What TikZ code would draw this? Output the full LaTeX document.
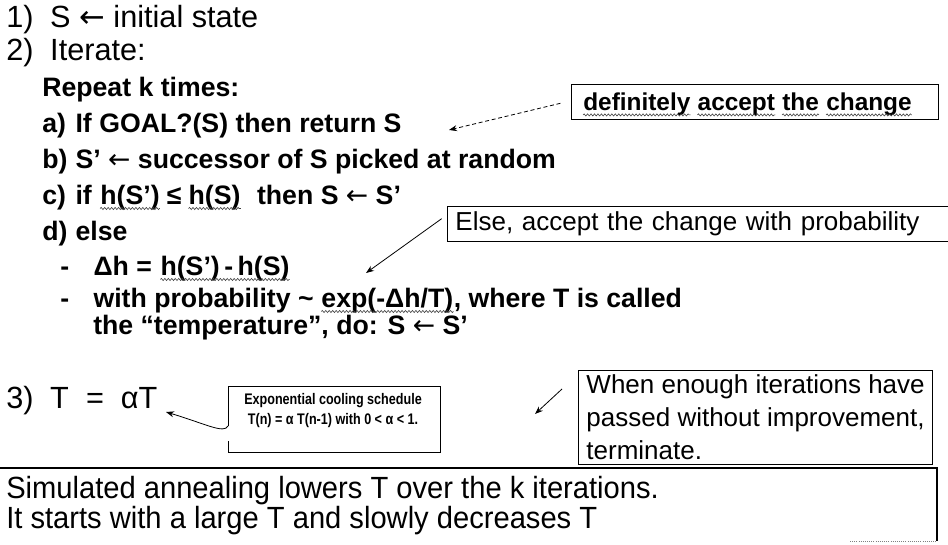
\documentclass[tikz,border=0pt]{standalone}
\usepackage{fontspec}
\setmainfont{Liberation Sans}
\newfontfamily\narrowfont[FakeStretch=0.82]{Liberation Sans}
\newfontfamily\botfont[FakeStretch=0.95]{Liberation Sans}
\newfontfamily\arrowfont{DejaVu Sans}
\usetikzlibrary{arrows.meta,decorations.pathmorphing}
\newcommand\larr{{\arrowfont\mdseries ←}}
\newcommand\squnder[1]{\draw[squig] ([yshift=-3.2pt]#1.base west) -- ([yshift=-3.2pt]#1.base east);}
\begin{document}
\begin{tikzpicture}[x=0.75pt,y=-0.75pt,
  mainline/.style={anchor=west, inner sep=0pt, text height=1.5ex, text depth=0.3ex, font=\fontsize{23}{27}\selectfont},
  subline/.style={anchor=west, inner sep=0pt, text height=1.5ex, text depth=0.3ex, font=\bfseries\fontsize{20}{24}\selectfont},
  seg/.style={anchor=base west, inner sep=0pt, font=\bfseries\fontsize{20}{24}\selectfont},
  defword/.style={anchor=base west, inner sep=0pt, font=\bfseries\fontsize{18.3}{22}\selectfont},
  callbox/.style={draw, line width=0.7pt, anchor=west, inner xsep=6pt, inner ysep=4pt},
  arr/.style={line width=0.6pt, -{Stealth[length=6pt,width=4.5pt]}},
  squig/.style={draw=darkgray, line width=0.45pt, decorate, decoration={snake, amplitude=0.8pt, segment length=2.6pt}},
]
\useasboundingbox (0,0) rectangle (948,545);
% main algorithm text
\node[mainline] (l1) at (6,23) {\makebox[33pt][l]{1)}S \larr{} initial state};
\node[mainline] (l2) at (6,56) {\makebox[33pt][l]{2)}Iterate:};
\node[subline] (rep) at (42,92) {Repeat k times:};
\node[subline] (la) at (42,128) {\makebox[25pt][l]{a)}If GOAL?(S) then return S};
\node[subline] (lb) at (42,164) {\makebox[25pt][l]{b)}S' \larr{} successor of S picked at random};
% line c
\node[subline] (lc) at (42,200) {\makebox[25pt][l]{c)}if};
\node[seg] (lch1) at ([xshift=6pt]lc.base east) {h(S')};
\node[seg] (lcle) at ([xshift=5pt]lch1.base east) {≤};
\node[seg] (lch2) at ([xshift=5pt]lcle.base east) {h(S)};
\node[seg] (lcthen) at ([xshift=12pt]lch2.base east) {then S \larr{} S'};
\squnder{lch1}
\squnder{lch2}
\node[subline] (ld) at (42,236) {\makebox[25pt][l]{d)}else};
% line delta h
\node[subline] (ldh) at (60,271) {\makebox[25pt][l]{-}Δh\ =};
\node[seg] (ldh1) at ([xshift=6pt]ldh.base east) {h(S')\,-\,h(S)};
\squnder{ldh1}
% line with probability
\node[subline] (lp) at (60,303) {\makebox[25pt][l]{-}with probability \textasciitilde};
\node[seg] (lpe) at ([xshift=5.5pt]lp.base east) {exp(-Δh/T)};
\node[seg] (lpr) at (lpe.base east) {, where T is called};
\squnder{lpe}
\node[subline] (lt) at (93,330) {the “temperature”, do: S \larr{} S'};
\node[mainline] (l3) at (6,404) {\makebox[33pt][l]{3)}T\ \ =\ \ αT};
% callout: definitely accept
\node[draw, line width=0.7pt, anchor=west, minimum width=275pt, minimum height=26pt, inner sep=0pt] (def) at (571,102) {};
\node[defword] (dw1) at ([xshift=9pt,yshift=-6.5pt]def.west) {definitely};
\node[defword] (dw2) at ([xshift=5.1pt]dw1.base east) {accept};
\node[defword] (dw3) at ([xshift=5.1pt]dw2.base east) {the};
\node[defword] (dw4) at ([xshift=5.1pt]dw3.base east) {change};
\squnder{dw1}
\squnder{dw2}
\squnder{dw3}
\squnder{dw4}
\coordinate (tipa) at (449,130);
\draw[arr, densely dashed] ([xshift=-8pt,yshift=-1pt]def.west) -- (tipa);
% callout: else
\node[callbox, font=\fontsize{19.5}{23}\selectfont, align=left, text width=364pt] (els) at (447,224)
  {Else, accept the change with probability};
\coordinate (tipb) at (366,273);
\draw[arr] ([xshift=-4pt,yshift=4pt]els.west) -- (tipb);
% callout: when enough
\node[callbox, font=\fontsize{19.5}{25}\selectfont, align=left, anchor=north west, inner ysep=3pt] (when) at (578,370)
  {When enough iterations have\\passed without improvement,\\terminate.};
\coordinate (w1) at (562,389);
\coordinate (w2) at (535,414);
\draw[arr] (w1) -- (w2);
% exponential cooling schedule box
\node[inner sep=0pt, align=center, font=\narrowfont\bfseries\fontsize{11.5}{15}\selectfont] (exp) at (333,411)
  {Exponential cooling schedule\\T(n) = α T(n-1) with 0 < α < 1.};
\coordinate (ea) at (228,426);
\coordinate (eb) at (228,441);
\coordinate (etip) at (166,412);
\draw[line width=0.7pt] (ea) -- (228,386) -- (440,386) -- (440,452) -- (228,452) -- (eb);
\draw[arr] (ea) .. controls (224,434) and (206,424) .. (etip);
% bottom box
\node[anchor=west, inner sep=0pt, font=\botfont\fontsize{23}{27}\selectfont] (s1) at (6,491)
  {Simulated annealing lowers T over the k iterations.};
\node[anchor=west, inner sep=0pt, font=\botfont\fontsize{23}{27}\selectfont] (s2) at (6,521)
  {It starts with a large T and slowly decreases T};
\draw[line width=0.9pt] (0,468) -- (937,468) -- (937,541);
\draw[line width=0.6pt, gray, densely dotted] (850,541) -- (937,541);
\end{tikzpicture}
\end{document}
